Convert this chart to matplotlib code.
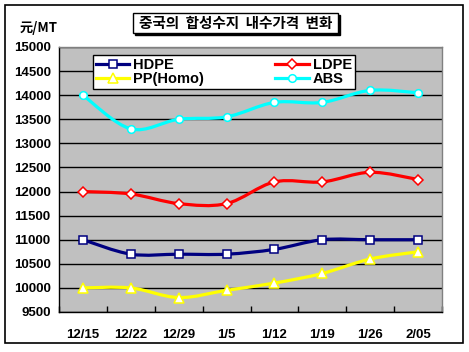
import matplotlib
matplotlib.use("Agg")
import matplotlib.pyplot as plt
import numpy as np
from matplotlib.path import Path
from matplotlib.patches import PathPatch, Rectangle
from matplotlib.lines import Line2D

categories = ["12/15", "12/22", "12/29", "1/5", "1/12", "1/19", "1/26", "2/05"]
hdpe = [11000, 10700, 10700, 10700, 10800, 11000, 11000, 11000]
ldpe = [12000, 11950, 11750, 11750, 12200, 12200, 12400, 12250]
pp = [10000, 10000, 9800, 9950, 10100, 10300, 10600, 10750]
abs_ = [14000, 13300, 13500, 13550, 13850, 13850, 14100, 14050]
yticks = [9500, 10000, 10500, 11000, 11500, 12000, 12500, 13000, 13500, 14000, 14500, 15000]

plt.rcParams['font.family'] = ['Liberation Sans', 'Noto Sans CJK KR', 'DejaVu Sans']

fig = plt.figure(figsize=(4.69, 3.52), dpi=100)
fig.patch.set_facecolor('white')
ax = fig.add_axes([59/469, 1-312/352, (442-59)/469, (312-47)/352])
ax.set_facecolor('#c0c0c0')

def smooth_path(xs, ys):
    xs = np.asarray(xs, float); ys = np.asarray(ys, float)
    n = len(xs)
    verts = [(xs[0], ys[0])]
    codes = [Path.MOVETO]
    for i in range(n - 1):
        p0 = np.array([xs[max(i-1, 0)], ys[max(i-1, 0)]])
        p1 = np.array([xs[i], ys[i]])
        p2 = np.array([xs[i+1], ys[i+1]])
        p3 = np.array([xs[min(i+2, n-1)], ys[min(i+2, n-1)]])
        c1 = p1 + (p2 - p0) / 6.0
        c2 = p2 - (p3 - p1) / 6.0
        verts += [tuple(c1), tuple(c2), tuple(p2)]
        codes += [Path.CURVE4] * 3
    return Path(verts, codes)

x = np.arange(len(categories))
series = {
    "HDPE": (hdpe, '#000080', 's', 6.2),
    "LDPE": (ldpe, '#ff0000', 'D', 5.2),
    "PP(Homo)": (pp, '#ffff00', '^', 7.0),
    "ABS": (abs_, '#00ffff', 'o', 5.5),
}
for name, (vals, col, mk, ms) in series.items():
    ax.add_patch(PathPatch(smooth_path(x, vals), facecolor='none', edgecolor=col, lw=2.3, zorder=3))
    ax.plot(x, vals, linestyle='none', color=col, marker=mk, markersize=ms,
            markerfacecolor='white', markeredgecolor=col, markeredgewidth=1.1, zorder=4)

order = ["HDPE", "PP(Homo)", "LDPE", "ABS"]
leg_handles = []
for name in order:
    vals, c, m, ms = series[name]
    leg_handles.append(Line2D([0], [0], color=c, lw=2.3, marker=m, markersize=ms,
                              markerfacecolor='white', markeredgecolor=c, markeredgewidth=1.1))
leg = ax.legend(leg_handles, order, ncol=2, loc='upper left',
                bbox_to_anchor=((93-59)/383, 1-(55-47)/265), frameon=True, fancybox=False,
                edgecolor='black', facecolor='white', framealpha=1,
                prop={'weight': 'bold', 'size': 10.5}, handlelength=2.3, handletextpad=0.25,
                columnspacing=4.9, labelspacing=0.0, borderpad=0.2, borderaxespad=0)
leg.get_frame().set_linewidth(1.0)

ax.set_xlim(-0.5, 7.5)
ax.set_ylim(9500, 15000)
ax.set_yticks(yticks)
ax.set_yticklabels([str(v) for v in yticks], fontweight='bold', fontsize=9.5)
ax.yaxis.grid(True, color='black', lw=1.0)
ax.set_axisbelow(True)
ax.set_xticks(x)
ax.set_xticklabels(categories, fontweight='bold', fontsize=9.5)
ax.tick_params(axis='x', which='major', length=0, pad=12)
ax.set_xticks(np.arange(-0.5, 8, 1), minor=True)
ax.tick_params(axis='x', which='minor', direction='in', length=4, width=1, color='black')
ax.tick_params(axis='y', length=0, pad=6)
for sp in ax.spines.values():
    sp.set_color('black'); sp.set_linewidth(1.0)
ax.spines['top'].set_color('#808080')
ax.spines['right'].set_color('#808080')

# outer border
fig.patches.append(Rectangle((5/469, 1-343/352), (463-5)/469, (343-5)/352, transform=fig.transFigure,
                             fill=False, edgecolor='black', lw=1.2))
# title box with shadow
fig.patches.append(Rectangle((135/469, 1-35/352), (338-133)/469, 20/352, transform=fig.transFigure,
                             facecolor='black', edgecolor='black', lw=1))
fig.patches.append(Rectangle((133/469, 1-33/352), (338-133)/469, 20/352, transform=fig.transFigure,
                             facecolor='white', edgecolor='black', lw=1))
fig.text(235.5/469, 1-23/352, "중국의  합성수지  내수가격  변화", ha='center', va='center',
         fontsize=10.5, fontweight='bold', family=['Noto Sans CJK KR', 'DejaVu Sans'])
fig.text(20/469, 1-28/352, "元/MT", ha='left', va='center', fontsize=9.5, fontweight='bold',
         family=['Noto Sans CJK SC', 'DejaVu Sans'])

fig.savefig("out.png", dpi=100, facecolor='white')
